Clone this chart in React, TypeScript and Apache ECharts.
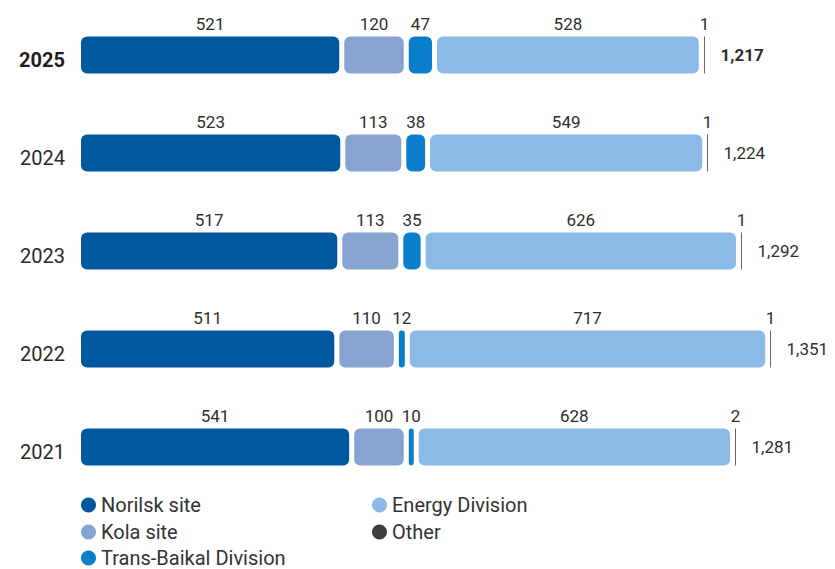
import React, { useEffect, useRef } from "react";
import * as echarts from "echarts";

const years = ["2025", "2024", "2023", "2022", "2021"];
const norilsk = [521, 523, 517, 511, 541];
const kola = [120, 113, 113, 110, 100];
const transBaikal = [47, 38, 35, 12, 10];
const energy = [528, 549, 626, 717, 628];
const other = [1, 1, 1, 1, 2];
const totalLabels = ["1,217", "1,224", "1,292", "1,351", "1,281"];

const seriesNames = ["Norilsk site", "Kola site", "Trans-Baikal Division", "Energy Division", "Other"];
const seriesColors = ["#02589f", "#86a4cf", "#0a7ecb", "#8abae5", "#3d3d3d"];
const seriesValues = [norilsk, kola, transBaikal, energy, other];

const GAP = 5;
const BAR_H = 37;
const FONT = "Roboto, 'Noto Sans', sans-serif";
const TEXT_COLOR = "#2e2e2e";

// legend placement: [left, centerY] per series
const legendPos = [
  [81, 505],
  [81, 532],
  [81, 558],
  [372, 505],
  [372, 532],
];

export default function App() {
  const ref = useRef<HTMLDivElement>(null);

  useEffect(() => {
    document.body.style.margin = "0";
    if (!ref.current) return;
    const chart = echarts.init(ref.current, undefined, { renderer: "svg" });

    const starts: number[][] = seriesValues.map(() => years.map(() => 0));
    years.forEach((_, yi) => {
      let acc = 0;
      seriesValues.forEach((arr, k) => {
        starts[k][yi] = acc;
        acc += arr[yi];
      });
    });

    const segSeries = seriesValues.map((arr, k) => ({
      type: "custom",
      name: seriesNames[k],
      itemStyle: { color: seriesColors[k] },
      encode: { x: [0, 3], y: 1 },
      data: years.map((_, yi) => [starts[k][yi], yi, arr[yi], starts[k][yi] + arr[yi]]),
      renderItem: (params: any, api: any) => {
        const start = api.value(0);
        const yi = api.value(1);
        const val = api.value(2);
        const c0 = api.coord([start, yi]);
        const c1 = api.coord([start + val, yi]);
        const x = c0[0] + k * GAP;
        const w = c1[0] - c0[0];
        const yc = c0[1];
        const top = yc - BAR_H / 2;
        const children: any[] = [];
        let cx = x + w / 2;
        if (k === 4) {
          const lx = Math.round(x) + 0.5;
          cx = lx;
          children.push({
            type: "line",
            shape: { x1: lx, y1: top, x2: lx, y2: top + BAR_H },
            style: { stroke: "#666", lineWidth: 1 },
          });
        } else {
          children.push({
            type: "rect",
            shape: { x, y: top, width: w, height: BAR_H, r: Math.min(6, w / 2) },
            style: { fill: seriesColors[k] },
          });
        }
        children.push({
          type: "text",
          style: {
            text: String(val),
            x: cx,
            y: top - 4,
            align: "center",
            verticalAlign: "bottom",
            fontSize: 17,
            fontFamily: FONT,
            fill: TEXT_COLOR,
          },
        });
        return { type: "group", children };
      },
    }));

    const totalSeries = {
      type: "custom",
      name: "Total",
      encode: { x: 0, y: 1 },
      data: years.map((_, yi) => [starts[4][yi], yi, yi]),
      renderItem: (params: any, api: any) => {
        const s = api.value(0);
        const yi = api.value(1);
        const c = api.coord([s, yi]);
        const lx = Math.round(c[0] + 4 * GAP) + 0.5;
        return {
          type: "text",
          style: {
            text: totalLabels[yi],
            x: lx + 16,
            y: c[1],
            align: "left",
            verticalAlign: "middle",
            fontSize: 17,
            fontWeight: yi === 0 ? "bold" : "normal",
            fontFamily: FONT,
            fill: TEXT_COLOR,
          },
        };
      },
    };

    const legends = seriesNames.map((name, k) => ({
      data: [name],
      orient: "horizontal",
      left: legendPos[k][0],
      top: legendPos[k][1] - 10,
      padding: 0,
      icon: "circle",
      itemWidth: 15,
      itemHeight: 15,
      selectedMode: false,
      textStyle: { fontSize: 20, lineHeight: 20, color: "#333", fontFamily: FONT },
    }));

    chart.setOption({
      animation: false,
      grid: { left: 81, right: 60, top: 6, bottom: 73 },
      xAxis: {
        type: "value",
        min: 0,
        max: 1400,
        show: false,
      },
      yAxis: {
        type: "category",
        inverse: true,
        data: years,
        axisLine: { show: false },
        axisTick: { show: false },
        splitLine: { show: false },
        axisLabel: {
          margin: 16,
          padding: [10, 0, 0, 0],
          formatter: (v: string, i: number) => (i === 0 ? `{b|${v}}` : `{n|${v}}`),
          rich: {
            b: { fontSize: 20, fontWeight: "bold", color: "#1e1e1e", fontFamily: FONT },
            n: { fontSize: 20, color: "#2a2a2a", fontFamily: FONT },
          },
        },
      },
      legend: legends,
      series: [...segSeries, totalSeries],
    });

    return () => chart.dispose();
  }, []);

  return <div ref={ref} style={{ width: 835, height: 569 }} />;
}
